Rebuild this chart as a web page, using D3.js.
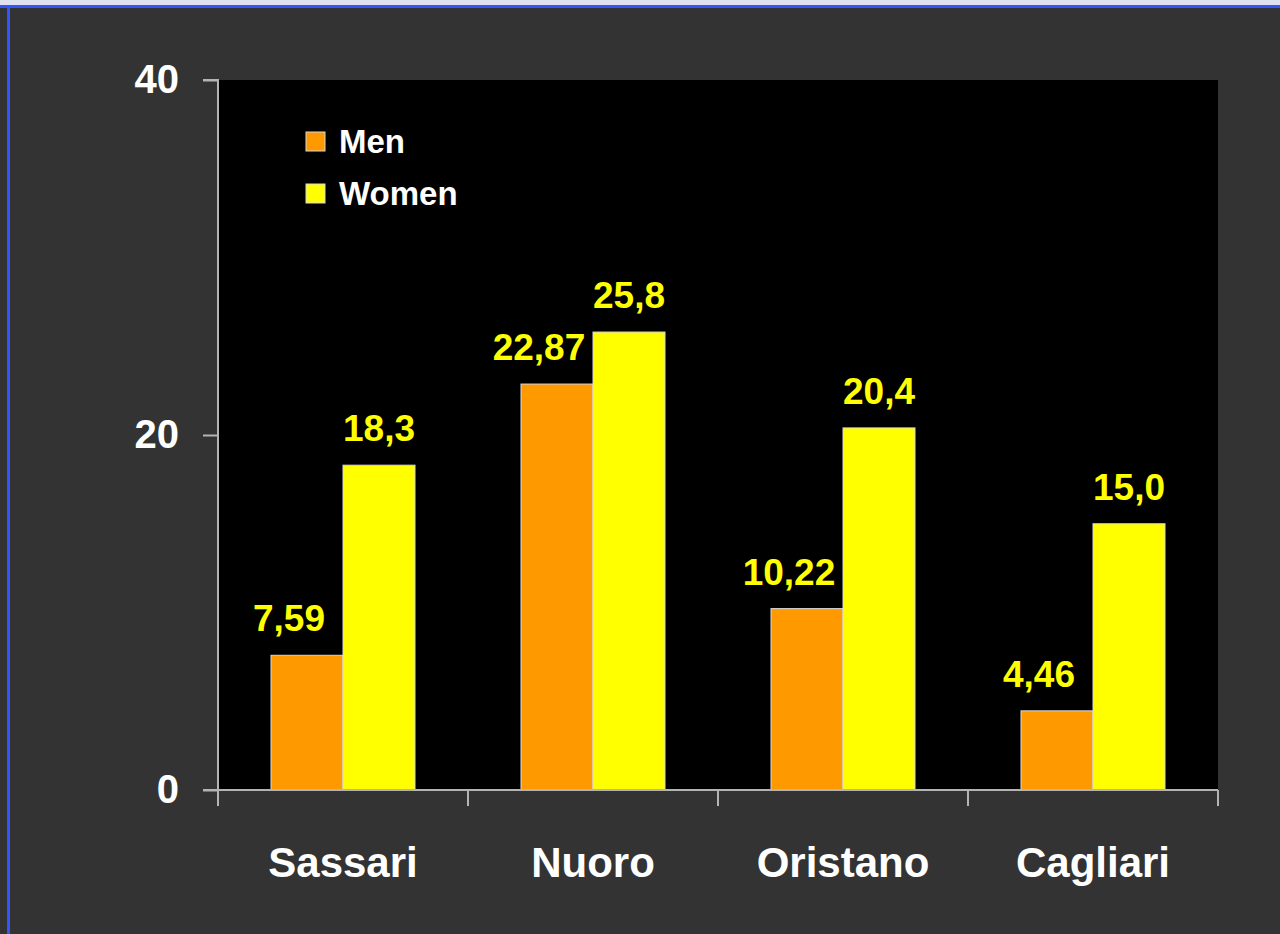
<!DOCTYPE html>
<html>
<head>
<meta charset="utf-8">
<script src="https://cdn.jsdelivr.net/npm/d3@7"></script>
<style>
  html, body { margin: 0; padding: 0; background: #333333; }
  svg { display: block; font-family: "Liberation Sans", Arial, sans-serif; font-weight: bold; }
</style>
</head>
<body>
<svg id="chart" width="1280" height="934"></svg>
<script>
// Provinces of Sardinia and the two series shown for each
const categories = ["Sassari", "Nuoro", "Oristano", "Cagliari"];
const series = ["Men", "Women"];
const menValues = [7.59, 22.87, 10.22, 4.46];
const womenValues = [18.3, 25.8, 20.4, 15.0];
const menLabels = ["7,59", "22,87", "10,22", "4,46"];
const womenLabels = ["18,3", "25,8", "20,4", "15,0"];
const yTicks = [0, 20, 40];

const colors = { Men: "#ff9900", Women: "#ffff00" };

const svg = d3.select("#chart");
const W = 1280, H = 934;
const plot = { left: 218, right: 1218, top: 80, bottom: 790 };

// page background and frame lines
svg.append("rect").attr("width", W).attr("height", H).attr("fill", "#333333");
svg.append("rect").attr("x", 0).attr("y", 0).attr("width", W).attr("height", 5).attr("fill", "#dfe1ee");
svg.append("rect").attr("x", 0).attr("y", 5).attr("width", W).attr("height", 3).attr("fill", "#3355ff");
svg.append("rect").attr("x", 7).attr("y", 5).attr("width", 3).attr("height", H - 5).attr("fill", "#3355ff");

// plot area
svg.append("rect")
  .attr("x", plot.left).attr("y", plot.top)
  .attr("width", plot.right - plot.left).attr("height", plot.bottom - plot.top)
  .attr("fill", "#000000");

const x0 = d3.scaleBand().domain(categories).range([plot.left, plot.right]).padding(0);
const x1 = d3.scaleBand().domain(series).range([0, x0.bandwidth()]).paddingInner(0).paddingOuter(0.736);
const y = d3.scaleLinear().domain([0, 40]).range([plot.bottom, plot.top]);

const rows = categories.map((c, i) => ({
  cat: c,
  vals: [
    { s: "Men", v: menValues[i], label: menLabels[i] },
    { s: "Women", v: womenValues[i], label: womenLabels[i] }
  ]
}));

// bars
const groups = svg.append("g").selectAll("g").data(rows).join("g")
  .attr("transform", d => `translate(${x0(d.cat)},0)`);

groups.selectAll("rect").data(d => d.vals).join("rect")
  .attr("x", d => x1(d.s))
  .attr("y", d => y(d.v))
  .attr("width", x1.bandwidth())
  .attr("height", d => y(0) - y(d.v))
  .attr("fill", d => colors[d.s])
  .attr("stroke", "#d8d8d8")
  .attr("stroke-width", 1);

// value labels
groups.selectAll("text").data(d => d.vals).join("text")
  .attr("x", d => x1(d.s) + x1.bandwidth() / 2 + (d.s === "Men" ? -18 : 0))
  .attr("y", d => y(d.v) - 24)
  .attr("text-anchor", "middle")
  .attr("font-size", 37)
  .attr("fill", "#ffff00")
  .text(d => d.label);

// axes
const axisColor = "#b4b4b4";
const yAxis = svg.append("g")
  .attr("transform", `translate(${plot.left},0)`)
  .call(d3.axisLeft(y).tickValues(yTicks).tickSize(15).tickPadding(24).tickFormat(d3.format("d")));
yAxis.select(".domain").attr("stroke", axisColor).attr("stroke-width", 2)
  .attr("d", `M0,${plot.bottom + 16}V${plot.top}H-15`);
yAxis.selectAll(".tick line").attr("stroke", axisColor).attr("stroke-width", 2);
yAxis.selectAll(".tick text").attr("fill", "#ffffff").attr("font-size", 40)
  .attr("font-family", "'Liberation Sans', Arial, sans-serif").attr("font-weight", "bold");

// category axis: ticks at band boundaries
const bounds = categories.map(c => x0(c)).concat([plot.right]);
const xAxis = svg.append("g");
xAxis.append("line")
  .attr("x1", plot.left - 15).attr("x2", plot.right)
  .attr("y1", plot.bottom).attr("y2", plot.bottom)
  .attr("stroke", axisColor).attr("stroke-width", 2);
xAxis.selectAll("line.t").data(bounds).join("line").attr("class", "t")
  .attr("x1", d => d).attr("x2", d => d)
  .attr("y1", plot.bottom).attr("y2", plot.bottom + 16)
  .attr("stroke", axisColor).attr("stroke-width", 2);
xAxis.selectAll("text").data(categories).join("text")
  .attr("x", d => x0(d) + x0.bandwidth() / 2)
  .attr("y", 877)
  .attr("text-anchor", "middle")
  .attr("font-size", 42)
  .attr("fill", "#ffffff")
  .text(d => d);

// legend
const legend = svg.append("g").selectAll("g").data(series).join("g")
  .attr("transform", (d, i) => `translate(306,${132 + i * 52})`);
legend.append("rect")
  .attr("width", 19).attr("height", 19)
  .attr("fill", d => colors[d])
  .attr("stroke", "#d8d8d8").attr("stroke-width", 1);
legend.append("text")
  .attr("x", 33).attr("y", 21)
  .attr("font-size", 33)
  .attr("fill", "#ffffff")
  .text(d => d);
</script>
</body>
</html>
